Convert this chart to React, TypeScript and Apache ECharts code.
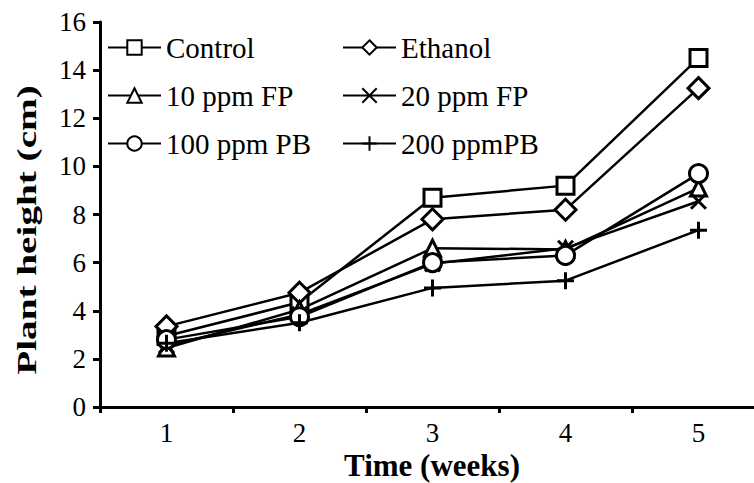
import React, { useEffect, useRef } from "react";
import * as echarts from "echarts";

const weeks = ["1", "2", "3", "4", "5"];
const control = [2.95, 4.35, 8.7, 9.2, 14.5];
const ethanol = [3.35, 4.75, 7.8, 8.2, 13.25];
const fp10 = [2.45, 4.05, 6.6, 6.55, 9.1];
const fp20 = [2.55, 3.85, 5.95, 6.6, 8.55];
const pb100 = [2.8, 3.75, 6.0, 6.3, 9.7];
const pb200 = [2.65, 3.5, 4.95, 5.25, 7.35];
const yTicks = { min: 0, max: 16, interval: 2 };
const xTitle = "Time (weeks)";
const yTitle = "Plant height (cm)";

const FONT = "'Liberation Serif', 'Times New Roman', serif";
const X_PATH = "path://M0,0L10,10M10,0L0,10";
const PLUS_PATH = "path://M5,0L5,10M0,5L10,5";

function mk(name: string, data: number[], symbol: string, size: number | number[]) {
  return {
    name,
    type: "line",
    data,
    symbol,
    symbolSize: size,
    symbolKeepAspect: true,
    showAllSymbol: true,
    lineStyle: { color: "#000", width: 2.5 },
    itemStyle: { color: "#fff", borderColor: "#000", borderWidth: 3 },
    emphasis: { disabled: true },
  };
}

export default function App() {
  const ref = useRef<HTMLDivElement>(null);
  useEffect(() => {
    if (!ref.current) return;
    const chart = echarts.init(ref.current, undefined, { renderer: "svg" });
    const legendCommon = {
      orient: "vertical",
      top: 33,
      itemWidth: 53,
      itemHeight: 18,
      itemGap: 19,
      textStyle: { fontFamily: FONT, fontSize: 29, color: "#000" },
      selectedMode: false,
      padding: 0,
    };
    chart.setOption({
      animation: false,
      backgroundColor: "#fff",
      textStyle: { fontFamily: FONT, color: "#000" },
      grid: { left: 100, top: 22, width: 665, height: 385, containLabel: false, outerBoundsMode: "none" },
      legend: [
        { ...legendCommon, left: 107, data: ["Control", "10 ppm FP", "100 ppm PB"] },
        { ...legendCommon, left: 342, data: ["Ethanol", "20 ppm FP", "200 ppmPB"] },
      ],
      graphic: [
        {
          type: "text",
          x: 27,
          y: 230,
          rotation: Math.PI / 2,
          scaleX: 1.4,
          style: {
            text: yTitle,
            fontFamily: FONT,
            fontSize: 28,
            fontWeight: "bold",
            fill: "#000",
            align: "center",
            verticalAlign: "middle",
          },
        },
        {
          type: "text",
          x: 432,
          y: 465,
          style: {
            text: xTitle,
            fontFamily: FONT,
            fontSize: 31,
            fontWeight: "bold",
            fill: "#000",
            align: "center",
            verticalAlign: "middle",
          },
        },
      ],
      xAxis: {
        type: "category",
        data: weeks,
        boundaryGap: true,
        axisLine: { lineStyle: { color: "#000", width: 3 } },
        axisTick: { show: true, length: 6, alignWithLabel: false, lineStyle: { color: "#000", width: 3 } },
        axisLabel: { fontFamily: FONT, fontSize: 27, color: "#000", margin: 12 },
        splitLine: { show: false },
      },
      yAxis: {
        type: "value",
        min: yTicks.min,
        max: yTicks.max,
        interval: yTicks.interval,
        axisLine: { show: true, lineStyle: { color: "#000", width: 3 } },
        axisTick: { show: true, length: 7, lineStyle: { color: "#000", width: 3 } },
        axisLabel: { fontFamily: FONT, fontSize: 27, color: "#000", margin: 14 },
        splitLine: { show: false },
      },
      series: [
        mk("Control", control, "rect", 17),
        mk("Ethanol", ethanol, "diamond", 21),
        mk("10 ppm FP", fp10, "triangle", 16),
        mk("20 ppm FP", fp20, X_PATH, 15),
        mk("100 ppm PB", pb100, "circle", 18),
        mk("200 ppmPB", pb200, PLUS_PATH, 17),
      ],
    });
    return () => chart.dispose();
  }, []);
  return <div ref={ref} style={{ width: 754, height: 483, position: "absolute", left: 0, top: 0 }} />;
}
